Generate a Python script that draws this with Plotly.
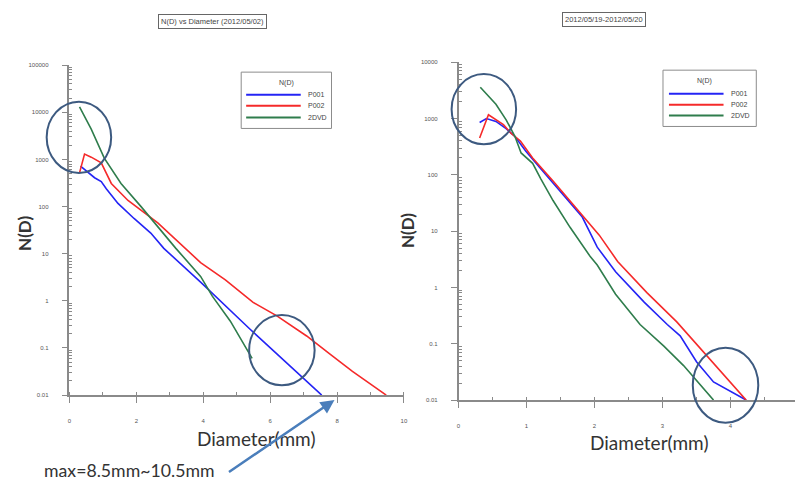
import plotly.graph_objects as go

W, H = 799, 488

# ---- data: drop size distribution N(D) vs diameter (mm) ----
# 2012/05/02
d_p001_a = [0.33, 0.50, 0.75, 0.95, 1.10, 1.45, 1.93, 2.43, 2.82, 3.92, 5.40, 7.54]
n_p001_a = [720, 575, 410, 340, 240, 117, 56, 27.5, 13, 2.5, 0.25, 0.01]
d_p002_a = [0.30, 0.45, 0.65, 0.95, 1.25, 1.75, 2.64, 3.47, 3.92, 4.66, 5.49, 6.20, 7.09, 7.77, 8.46, 9.47]
n_p002_a = [520, 1300, 1120, 850, 310, 135, 45, 13, 6.5, 2.8, 0.93, 0.48, 0.18, 0.076, 0.032, 0.01]
d_2dvd_a = [0.30, 0.65, 1.04, 1.54, 2.14, 2.55, 3.18, 3.92, 4.27, 4.81, 5.46]
n_2dvd_a = [13000, 4400, 1070, 310, 100, 45, 13, 3.3, 1.26, 0.37, 0.06]

# 2012/05/19-2012/05/20
d_p001_b = [0.31, 0.41, 0.55, 0.70, 0.83, 0.99, 1.20, 1.49, 1.82, 2.04, 2.31, 2.73, 3.07, 3.26, 3.50, 3.75, 4.23]
n_p001_b = [850, 1000, 890, 660, 480, 263, 132, 52, 17.8, 5.2, 1.9, 0.55, 0.22, 0.138, 0.048, 0.021, 0.01]
d_p002_b = [0.31, 0.44, 0.66, 0.77, 0.91, 1.09, 1.39, 1.72, 2.07, 2.34, 2.77, 3.21, 3.65, 4.23]
n_p002_b = [450, 1170, 780, 550, 400, 200, 78, 26, 8.5, 2.9, 0.81, 0.245, 0.062, 0.01]
d_2dvd_b = [0.32, 0.39, 0.55, 0.70, 0.83, 0.92, 1.09, 1.21, 1.39, 1.64, 1.94, 2.04, 2.31, 2.67, 3.02, 3.31, 3.75]
n_2dvd_b = [3600, 2950, 1800, 950, 480, 245, 160, 85, 35, 11.7, 3.5, 2.5, 0.76, 0.22, 0.091, 0.041, 0.01]

series_names = ["P001", "P002", "2DVD"]
series_colors = ["#2424f5", "#f52a2a", "#2f7d4c"]

y_ticks_a = [0.01, 0.1, 1, 10, 100, 1000, 10000, 100000]
y_text_a = ["0.01", "0.1", "1", "10", "100", "1000", "10000", "100000"]
y_ticks_b = [0.01, 0.1, 1, 10, 100, 1000, 10000]
y_text_b = ["0.01", "0.1", "1", "10", "100", "1000", "10000"]

title_a = "N(D) vs Diameter (2012/05/02)"
title_b = "2012/05/19-2012/05/20"
legend_title = "N(D)"
note_text = "max=8.5mm~10.5mm"


def px(x):
    return x / W


def py(y):
    return 1 - y / H


def minor_log(lo, hi):
    # 2..9 x 10^k between two decades
    return [m * 10.0 ** k for k in range(lo, hi) for m in range(2, 10)]


fig = go.Figure()

left = [(d_p001_a, n_p001_a), (d_p002_a, n_p002_a), (d_2dvd_a, n_2dvd_a)]
right = [(d_p001_b, n_p001_b), (d_p002_b, n_p002_b), (d_2dvd_b, n_2dvd_b)]

for (xs, ys), name, col in zip(left, series_names, series_colors):
    fig.add_trace(go.Scatter(x=xs, y=ys, mode="lines", name=name,
                             line=dict(color=col, width=1.6),
                             xaxis="x", yaxis="y", showlegend=False))
for (xs, ys), name, col in zip(right, series_names, series_colors):
    fig.add_trace(go.Scatter(x=xs, y=ys, mode="lines", name=name,
                             line=dict(color=col, width=1.6),
                             xaxis="x2", yaxis="y2", showlegend=False))

axis_col = "#8a8a8a"
tick_font = dict(family="Liberation Sans", size=6, color="#555555")

common_x = dict(showgrid=False, zeroline=False, showline=True, linecolor=axis_col,
                linewidth=1.5, ticks="outside", ticklen=6, tickcolor=axis_col,
                tickfont=tick_font, ticklabelstandoff=13)
common_y = dict(type="log", showgrid=False, zeroline=False, showline=True,
                linecolor=axis_col, linewidth=1.5, ticks="outside", ticklen=6,
                tickcolor=axis_col, tickfont=tick_font, ticklabelstandoff=12)
minor_y = dict(type="log", showgrid=False, zeroline=False, showline=False,
               ticks="inside", ticklen=3, tickcolor=axis_col, tickwidth=1,
               showticklabels=False, side="left")

fig.update_layout(
    width=W, height=H, margin=dict(l=0, r=0, t=0, b=0),
    paper_bgcolor="white", plot_bgcolor="white", showlegend=False,
    xaxis=dict(domain=[px(68), px(405)], range=[0, 10], anchor="y",
               tickvals=[0, 2, 4, 6, 8, 10],
               minor=dict(ticks="inside", ticklen=3, tickcolor=axis_col, dtick=1),
               **common_x),
    yaxis=dict(domain=[py(397), py(63)], range=[-2, 5], anchor="x",
               tickvals=y_ticks_a, ticktext=y_text_a, **common_y),
    yaxis3=dict(overlaying="y", anchor="x", range=[-2, 5],
                tickvals=minor_log(-2, 5), **minor_y),
    xaxis2=dict(domain=[px(460), 1.0], range=[0, (W - 460) / 68.5], anchor="y2",
                tickvals=[0, 1, 2, 3, 4],
                minor=dict(ticks="inside", ticklen=3, tickcolor=axis_col, dtick=0.5),
                **common_x),
    yaxis2=dict(domain=[py(402), py(60)], range=[-2, 4], anchor="x2",
                tickvals=y_ticks_b, ticktext=y_text_b, **common_y),
    yaxis4=dict(overlaying="y2", anchor="x2", range=[-2, 4],
                tickvals=minor_log(-2, 4), **minor_y),
)

# empty traces so the overlay tick axes are drawn
fig.add_trace(go.Scatter(x=[None], y=[None], xaxis="x", yaxis="y3", showlegend=False, hoverinfo="skip"))
fig.add_trace(go.Scatter(x=[None], y=[None], xaxis="x2", yaxis="y4", showlegend=False, hoverinfo="skip"))

label_font = dict(family="Lato", size=19, color="#333333")
note_font = dict(family="Lato", size=17.7, color="#333333")
ylab_font = dict(family="Lato", size=17, color="#333333")
small_font = dict(family="Liberation Sans", size=7.5, color="#444444")
ann = [
    dict(text=title_a, x=px(212), y=py(19), xanchor="center", yanchor="middle",
         font=small_font, bordercolor="#666", borderwidth=1, borderpad=2),
    dict(text=title_b, x=px(607), y=py(17), xanchor="center", yanchor="middle",
         font=small_font, bordercolor="#666", borderwidth=1, borderpad=2),
    dict(text="Diameter(mm)", x=px(256), y=py(441), xanchor="center", yanchor="middle",
         font=label_font),
    dict(text="Diameter(mm)", x=px(652), y=py(445), xanchor="center", yanchor="middle",
         font=label_font),
    dict(text="<b>N(D)</b>", x=px(22), y=py(233), xanchor="center", yanchor="middle",
         textangle=-90, font=ylab_font),
    dict(text="<b>N(D)</b>", x=px(408), y=py(230), xanchor="center", yanchor="middle",
         textangle=-90, font=ylab_font),
    dict(text=note_text, x=px(40), y=py(473), xanchor="left", yanchor="middle",
         font=note_font),
]
for a in ann:
    a.update(xref="paper", yref="paper", showarrow=False)
ann.append(dict(text="", x=px(335), y=py(402), xref="paper", yref="paper",
                ax=228 - 335, ay=475 - 402, showarrow=True, arrowhead=2, arrowsize=1.1,
                arrowwidth=2.5, arrowcolor="#4a7ebb"))

# legend boxes: (box, title position, line x-span, label x, entry rows)
legend_specs = [
    dict(box=(241, 70, 332, 127), title=(287, 81), line=(246, 301), label=306, rows=(93, 104, 116)),
    dict(box=(666, 68, 760, 125), title=(708, 79), line=(672, 727), label=732, rows=(92, 103, 114)),
]
legend_font = dict(family="Liberation Sans", size=7, color="#444444")
for spec in legend_specs:
    bx0, by0, bx1, by1 = spec["box"]
    fig.add_shape(type="rect", xref="paper", yref="paper",
                  x0=px(bx0), x1=px(bx1), y0=py(by1), y1=py(by0),
                  line=dict(color="#8c8c8c", width=1), fillcolor="white", layer="above")
    tx, ty = spec["title"]
    ann.append(dict(text=legend_title, x=px(tx), y=py(ty), xref="paper", yref="paper",
                    xanchor="center", yanchor="middle", showarrow=False, font=legend_font))
    lx0, lx1 = spec["line"]
    for name, col, ry in zip(series_names, series_colors, spec["rows"]):
        fig.add_shape(type="line", xref="paper", yref="paper",
                      x0=px(lx0), x1=px(lx1), y0=py(ry), y1=py(ry),
                      line=dict(color=col, width=2), layer="above")
        ann.append(dict(text=name, x=px(spec["label"]), y=py(ry), xref="paper", yref="paper",
                        xanchor="left", yanchor="middle", showarrow=False, font=legend_font))

fig.update_layout(annotations=ann)

# highlight circles
circle_col = "#3d5a80"
circles = [(45, 100, 110, 172), (249, 316, 315, 387), (453, 72, 518, 143), (696, 349, 762, 425)]
for x0, y0, x1, y1 in circles:
    fig.add_shape(type="circle", xref="paper", yref="paper",
                  x0=px(x0), x1=px(x1), y0=py(y1), y1=py(y0),
                  line=dict(color=circle_col, width=2))

fig.write_html("out.html")
